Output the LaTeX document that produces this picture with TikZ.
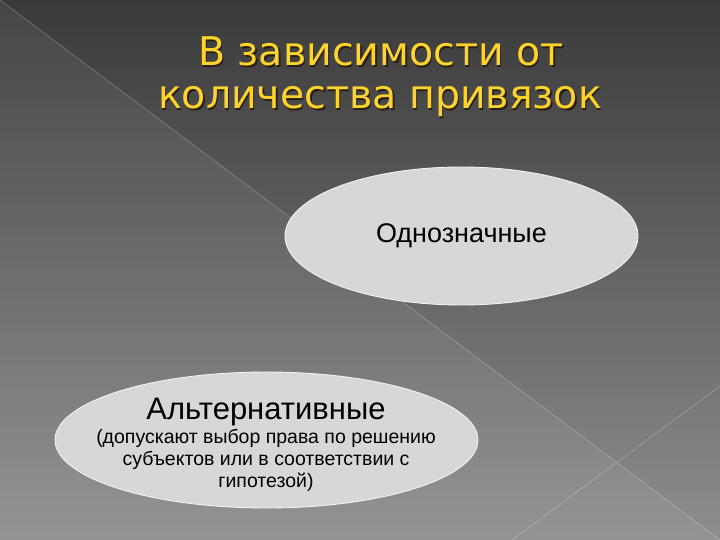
\documentclass[tikz,border=0pt]{standalone}
\usepackage{fontspec}
\setmainfont{Liberation Sans}
\newfontfamily\titlefont{DejaVu Sans}
\usetikzlibrary{shapes.geometric}
\definecolor{slideTop}{HTML}{3A3A3A}
\definecolor{slideBottom}{HTML}{8E8E8E}
\definecolor{ovalFill}{HTML}{D7D7D7}
\definecolor{titleGold}{HTML}{FFD42A}
\definecolor{titleShade}{HTML}{2A2012}
\tikzset{
    oval/.style={ellipse, fill=ovalFill, draw=white!90!gray, line width=0.9pt, inner sep=0pt},
    seam/.style={draw=white, opacity=0.22, line width=0.8pt},
    titlefont/.style={font=\titlefont\fontsize{39.5}{42}\selectfont},
}
% shadowed title line: x, y (baseline), name, text
\newcommand{\titleLine}[4]{
    \node[titlefont, titleShade, anchor=base] (#3s) at ({#1+1.5}, {#2+1.5}) {#4};
    \node[titlefont, titleGold, anchor=base] (#3) at (#1, #2) {#4};
}

\begin{document}
\begin{tikzpicture}[x=1pt, y=-1pt]
	\useasboundingbox (0,0) rectangle (720,540);
	\shade[top color=slideTop, bottom color=slideBottom] (0,0) rectangle (720,540);
	\fill[white, opacity=0.06] (0,0) -- (720,540) -- (0,540) -- cycle;
	\draw[seam] (0,0) -- (720,540);
	\draw[seam] (720,386) -- (512,540);

	\titleLine{381}{66}{T1}{В зависимости от};
	\titleLine{380}{109}{T2}{количества привязок};

	\node[oval, minimum width=353pt, minimum height=138pt,
		font=\fontsize{27}{30}\selectfont] (single) at (461.5,236) {Однозначные};

	\node[oval, minimum width=423pt, minimum height=136pt] (alt) at (266.5,440) {};
	\node[anchor=base, inner sep=0pt, font=\fontsize{31}{34}\selectfont] (altName) at (266,419) {Альтернативные};
	% base of a multi-line node is the baseline of its last line
	\node[anchor=base, align=center, inner sep=0pt, font=\fontsize{19.5}{22}\selectfont] (altNote) at (266,487)
		{(допускают выбор права по решению\\субъектов или в соответствии с\\гипотезой)};
\end{tikzpicture}
\end{document}
